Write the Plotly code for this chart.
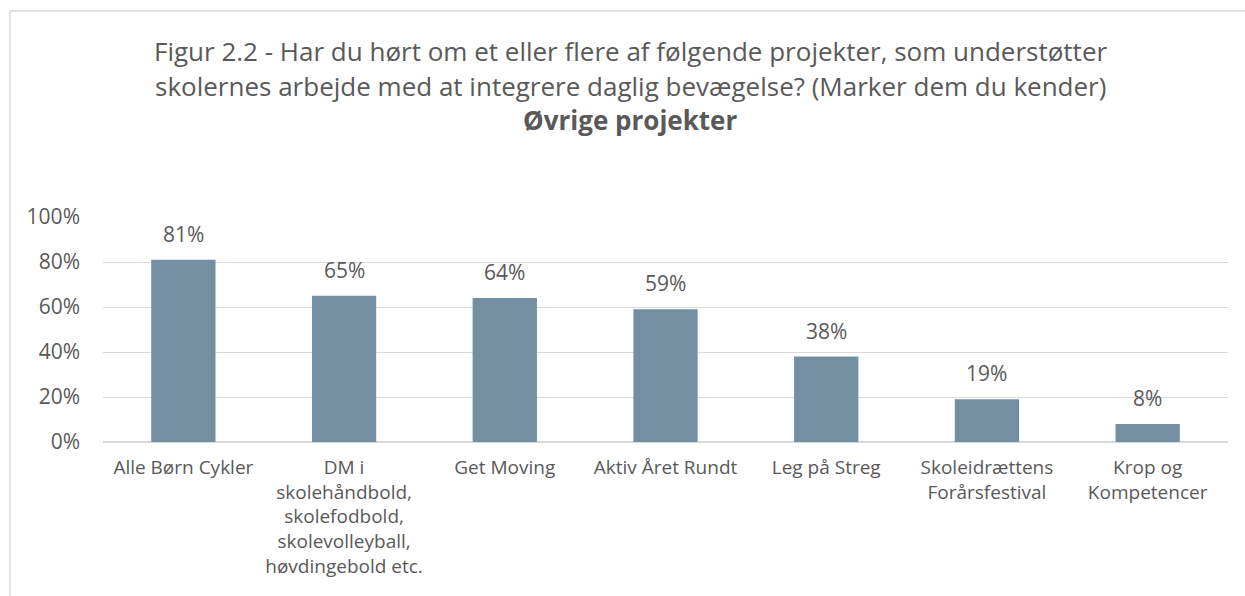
import plotly.graph_objects as go

categories = [
    "Alle Børn Cykler",
    "DM i<br>skolehåndbold,<br>skolefodbold,<br>skolevolleyball,<br>høvdingebold etc.",
    "Get Moving",
    "Aktiv Året Rundt",
    "Leg på Streg",
    "Skoleidrættens<br>Forårsfestival",
    "Krop og<br>Kompetencer",
]
values = [0.81, 0.65, 0.64, 0.59, 0.38, 0.19, 0.08]
tick_vals = [0, 0.2, 0.4, 0.6, 0.8, 1.0]
tick_text = ["0%", "20%", "40%", "60%", "80%", "100%"]
title_lines = [
    "Figur 2.2 - Har du hørt om et eller flere af følgende projekter, som understøtter",
    "skolernes arbejde med at integrere daglig bevægelse? (Marker dem du kender)",
    "<b>Øvrige projekter</b>",
]

FONT = "Open Sans"
TXT = "#595959"
W, H = 1245, 596
ml, mr, mt, mb = 103, 17, 217, 154
ph = H - mt - mb
pw = W - ml - mr

fig = go.Figure(
    go.Bar(
        x=categories,
        y=values,
        marker=dict(color="#738FA1", line=dict(width=0)),
        width=0.4,
        hoverinfo="skip",
    )
)

# data labels above bars
for c, v in zip(categories, values):
    fig.add_annotation(
        x=c, y=v, xref="x", yref="y",
        text=f"{v:.0%}", showarrow=False,
        xanchor="center", yanchor="bottom", yshift=10,
        font=dict(family=FONT, size=21, color=TXT),
    )

def py(pix):
    return (H - mb - pix) / ph

def px(pix):
    return (pix - ml) / pw

for line, ypix in zip(title_lines, [51, 86, 120]):
    fig.add_annotation(
        text=line, xref="paper", yref="paper",
        x=px(630), y=py(ypix), xanchor="center", yanchor="middle",
        showarrow=False, font=dict(family=FONT, size=26, color=TXT),
    )

fig.add_shape(
    type="rect", xref="paper", yref="paper",
    x0=px(10), x1=px(1270), y0=py(11), y1=py(620),
    line=dict(color="#D9D9D9", width=1.5), fillcolor="rgba(0,0,0,0)", layer="below",
)

fig.update_layout(
    width=W, height=H,
    margin=dict(l=ml, r=mr, t=mt, b=mb),
    paper_bgcolor="white", plot_bgcolor="white",
    showlegend=False,
    bargap=0.6,
    font=dict(family=FONT, size=19, color=TXT),
)
fig.update_yaxes(
    range=[0, 1.0], tickvals=tick_vals, ticktext=tick_text,
    showgrid=True, gridcolor="#D9D9D9", gridwidth=1,
    zeroline=True, zerolinecolor="#D9D9D9", zerolinewidth=1.5,
    tickfont=dict(family=FONT, size=21, color=TXT),
    ticks="", ticklabelstandoff=22, showline=False,
)
fig.update_xaxes(
    tickfont=dict(family=FONT, size=19, color=TXT),
    ticks="", showline=False, ticklabelstandoff=12,
)

fig.write_html(
    "out.html",
    config={"displayModeBar": False},
    post_script="document.body.style.margin='0';document.body.style.overflow='hidden';",
)
